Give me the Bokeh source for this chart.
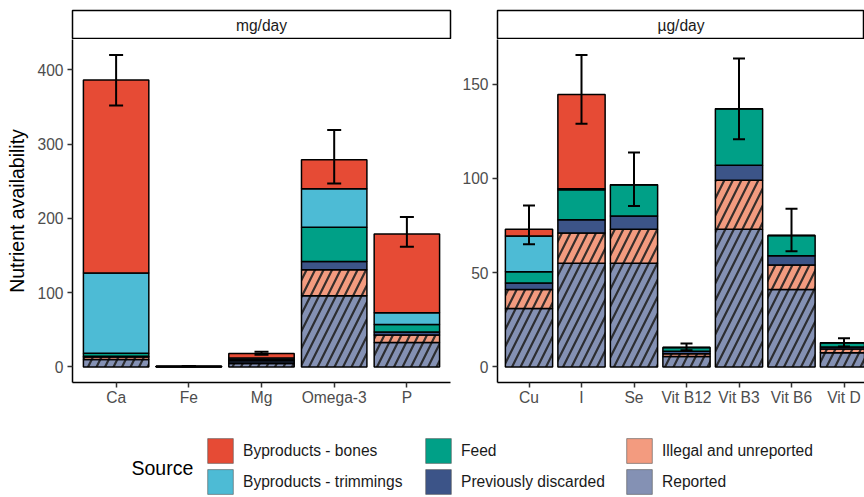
from bokeh.plotting import figure
from bokeh.layouts import column, row
from bokeh.models import (ColumnDataSource, FixedTicker, Range1d, Whisker, TeeHead,
                          Legend, LegendItem, Label)
from bokeh.transform import stack
from bokeh.embed import file_html
from bokeh.resources import INLINE

FONT = "Liberation Sans"

# ---- data ----
source_names = ["Reported", "Illegal and unreported", "Previously discarded",
                "Feed", "Byproducts - trimmings", "Byproducts - bones"]
source_colors = ["#8491B4", "#F39B7F", "#3C5488", "#00A087", "#4DBBD5", "#E64B35"]
hatched_sources = ["Reported", "Illegal and unreported"]

mg_units = "mg/day"
mg_nutrients = ["Ca", "Fe", "Mg", "Omega-3", "P"]
mg_reported = [10, 0.3, 4.5, 96, 33]
mg_illegal = [3.5, 0.1, 0.8, 35, 10]
mg_discarded = [1, 0.05, 3, 11, 4]
mg_feed = [4, 0.1, 1.5, 46, 10]
mg_trimmings = [108, 0.1, 2.2, 52, 16]
mg_bones = [260, 0.3, 6, 39, 106]
mg_err_low = [352, 0.8, 16.5, 247, 162]
mg_err_high = [420, 1.1, 20.5, 319, 202]
mg_yticks = [0, 100, 200, 300, 400]

ug_units = "µg/day"
ug_nutrients = ["Cu", "I", "Se", "Vit B12", "Vit B3", "Vit B6", "Vit D"]
ug_reported = [31, 55, 55, 5.5, 73, 41, 7.5]
ug_illegal = [10, 16, 18, 1.5, 26, 13, 2]
ug_discarded = [3.5, 7, 7, 1.3, 8, 5, 1]
ug_feed = [6, 16, 16.6, 2, 30, 10.7, 2.3]
ug_trimmings = [19, 0.5, 0, 0, 0, 0, 0]
ug_bones = [3.5, 50, 0, 0, 0, 0, 0]
ug_err_low = [65, 129, 85.3, 8.9, 120.7, 61.3, 10.8]
ug_err_high = [85.6, 165.4, 113.7, 12.4, 163.6, 83.9, 15.2]
ug_yticks = [0, 50, 100, 150]

legend_columns = [["Byproducts - bones", "Byproducts - trimmings"],
                  ["Feed", "Previously discarded"],
                  ["Illegal and unreported", "Reported"]]

KEYS = ["s0", "s1", "s2", "s3", "s4", "s5"]


def style_axes(p):
    for ax in (p.xaxis[0], p.yaxis[0]):
        ax.axis_line_color = "black"
        ax.axis_line_width = 1.5
        ax.major_tick_line_color = "#333333"
        ax.major_tick_line_width = 1.5
        ax.major_tick_out = 5
        ax.major_tick_in = 0
        ax.minor_tick_out = 0
        ax.minor_tick_in = 0
        ax.major_label_text_font = FONT
        ax.major_label_text_font_size = "15.6px"
        ax.major_label_text_color = "#4D4D4D"
    p.xaxis[0].major_label_standoff = 1
    p.yaxis[0].major_label_standoff = 4
    p.xgrid.grid_line_color = None
    p.ygrid.grid_line_color = None


def make_panel(names, layers, lo, hi, yticks, width, border_left, border_right,
               xmax, cap, ylabel=None):
    xs = list(range(1, len(names) + 1))
    data = {"x": xs, "lo": lo, "hi": hi}
    for k, vals in zip(KEYS, layers):
        data[k] = vals
    src = ColumnDataSource(data)
    top = max(hi) * 1.05
    p = figure(width=width, height=373, x_range=Range1d(0.4, xmax),
               y_range=Range1d(-max(hi) * 0.05, top),
               output_backend="svg", toolbar_location=None,
               min_border_left=border_left, min_border_right=border_right,
               min_border_top=0, min_border_bottom=30,
               outline_line_color=None, background_fill_color="white")
    for i, k in enumerate(KEYS):
        name = source_names[i]
        kw = dict(x="x", width=0.9, source=src,
                  top=stack(*KEYS[:i + 1]),
                  bottom=stack(*KEYS[:i]) if i else 0,
                  fill_color=source_colors[i], line_color="black", line_width=1.5)
        if name in hatched_sources:
            kw.update(hatch_pattern="/", hatch_color="#222222", hatch_alpha=0.9,
                      hatch_scale=17, hatch_weight=2.2)
        p.vbar(**kw)
    w = Whisker(source=src, base="x", lower="lo", upper="hi",
                line_color="black", line_width=2, level="overlay",
                upper_head=TeeHead(size=cap, line_width=2, line_color="black"),
                lower_head=TeeHead(size=cap, line_width=2, line_color="black"))
    p.add_layout(w)
    style_axes(p)
    p.xaxis.ticker = FixedTicker(ticks=xs)
    p.xaxis.major_label_overrides = {x: n for x, n in zip(xs, names)}
    p.yaxis.ticker = FixedTicker(ticks=yticks)
    if ylabel:
        p.yaxis.axis_label = ylabel
        p.yaxis.axis_label_text_font = FONT
        p.yaxis.axis_label_text_font_size = "19.5px"
        p.yaxis.axis_label_text_font_style = "normal"
        p.yaxis.axis_label_text_color = "black"
        p.yaxis.axis_label_standoff = 6
    return p, src


def make_strip(text, width, border_left, border_right):
    s = figure(width=width, height=39, x_range=Range1d(0, 1), y_range=Range1d(0, 1),
               output_backend="svg", toolbar_location=None,
               x_axis_location=None, y_axis_location=None,
               min_border_left=border_left, min_border_right=border_right,
               min_border_top=10, min_border_bottom=0,
               outline_line_color="black", outline_line_width=1.5,
               background_fill_color="white")
    s.grid.visible = False
    s.add_layout(Label(x=0.5, y=0.5, text=text, text_align="center",
                       text_baseline="middle", text_font=FONT,
                       text_font_size="15.6px", text_color="#1A1A1A"))
    return s


p1, src1 = make_panel(mg_nutrients,
                      [mg_reported, mg_illegal, mg_discarded, mg_feed, mg_trimmings, mg_bones],
                      mg_err_low, mg_err_high, mg_yticks, 458, 72, 8, 5.6, 14,
                      ylabel="Nutrient availability")
p2, src2 = make_panel(ug_nutrients,
                      [ug_reported, ug_illegal, ug_discarded, ug_feed, ug_trimmings, ug_bones],
                      ug_err_low, ug_err_high, ug_yticks, 406, 39, 0, 0.4 + 367 / 52.5, 12)

s1 = make_strip(mg_units, 458, 72, 8)
s2 = make_strip(ug_units, 406, 39, 0)

# ---- legend strip ----
lf = figure(width=864, height=85, x_range=Range1d(0, 1), y_range=Range1d(0, 1),
            output_backend="svg", toolbar_location=None,
            x_axis_location=None, y_axis_location=None,
            min_border_left=0, min_border_right=0, min_border_top=0, min_border_bottom=0,
            outline_line_color=None)
lf.grid.visible = False
proxies = {}
for i, (name, color) in enumerate(zip(source_names, source_colors)):
    # hidden proxy renderers (legend keys only)
    proxies[name] = lf.vbar(x="x", top=KEYS[i], width=0.9, source=src1,
                            fill_color=color, line_color="#555555", line_width=0.6,
                            visible=False)

col_x = [204, 422, 623]
for cx, names in zip(col_x, legend_columns):
    leg = Legend(items=[LegendItem(label=n, renderers=[proxies[n]]) for n in names],
                 location=(cx, 0), orientation="vertical",
                 glyph_width=32, glyph_height=31, spacing=0, padding=0, margin=0,
                 label_standoff=7, label_text_font=FONT, label_text_font_size="15.6px",
                 label_text_color="#1A1A1A", label_text_baseline="middle",
                 border_line_color=None, background_fill_alpha=0)
    lf.add_layout(leg)

lf.add_layout(Label(x=131, y=30, x_units="screen", y_units="screen", text="Source",
                    text_font=FONT, text_font_size="19.5px", text_color="black",
                    text_baseline="middle", text_align="left"))

layout = column(row(s1, s2), row(p1, p2), lf)

open("out.html", "w").write(file_html(layout, INLINE))
